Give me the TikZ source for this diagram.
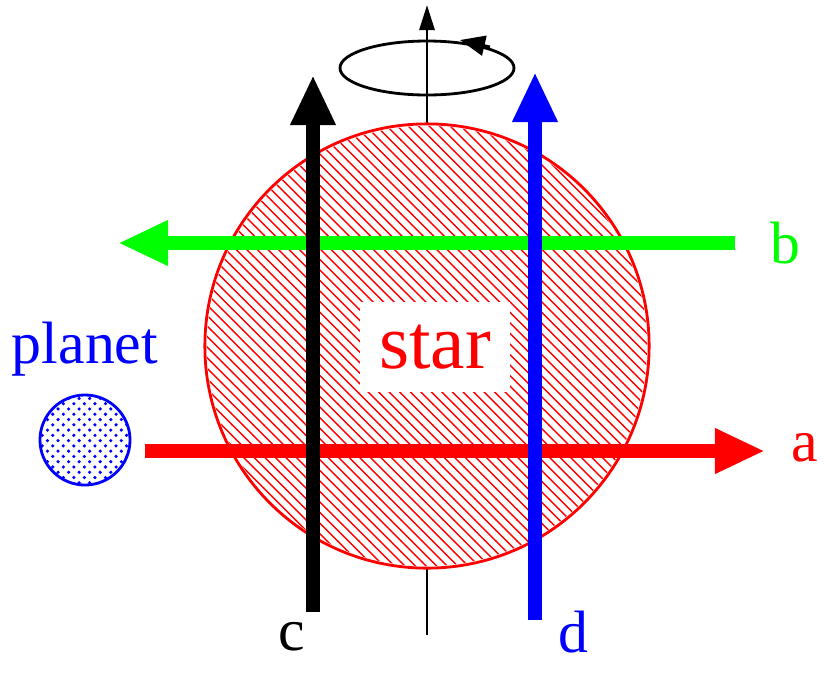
\documentclass[tikz,border=0pt]{standalone}
\usepackage{fontspec}
\setmainfont{Liberation Serif}
\usetikzlibrary{patterns, arrows.meta, positioning}

\begin{document}
\begin{tikzpicture}[x=0.01cm, y=-0.01cm,
	beam/.style={line width=0.14cm, -{Triangle[length=0.5cm, width=0.42cm]}},
	lbl/.style={font=\fontsize{17}{17}\selectfont}]
	\useasboundingbox (0,0) rectangle (830,678);
	
	%% Eixo de rotação
	\coordinate (axbot) at (427,635);
	\coordinate (axtop) at (427,5);
	\draw [-{Triangle[length=0.25cm, width=0.15cm]}, thick] (axbot)--(axtop);
	\draw [thick] (427,68) ellipse (87 and 27);
	\draw [-{Triangle[length=0.25cm, width=0.2cm]}, thick] (490,47)--(460,40);
	
	%% Estrela
	\node [circle, minimum size=4.44cm, draw=red, thick, fill=white] (star) at (427,346) {};
	\fill [pattern=north west lines, pattern color=red] (star.center) circle (2.2cm);
	\node [fill=white, text=red, font=\fontsize{22}{22}\selectfont,
		minimum width=1.5cm, minimum height=0.9cm] (starlbl) at (435,347) {star};
	
	%% Planeta
	\node [circle, minimum size=0.9cm, draw=blue, thick, fill=white] (planet) at (85,440) {};
	\fill [pattern=crosshatch dots, pattern color=blue] (planet.center) circle (0.44cm);
	\node [text=blue, lbl, above=0.05cm of planet] (planetlbl) {planet};
	
	%% Trajetórias
	\coordinate (b0) at (735,243);  \coordinate (b1) at (118,243);
	\coordinate (a0) at (145,451);  \coordinate (a1) at (765,451);
	\coordinate (c0) at (313,612);  \coordinate (c1) at (313,75);
	\coordinate (d0) at (535,620);  \coordinate (d1) at (535,72);
	
	\draw [beam, green] (b0)--(b1);
	\draw [beam, red] (a0)--(a1);
	\draw [beam, black] (c0)--(c1);
	\draw [beam, blue] (d0)--(d1);
	
	\node [lbl, text=green] (blbl) at (785,243) {b};
	\node [lbl, text=red] (albl) at (805,448) {a};
	\node [lbl, text=black] (clbl) at (292,637) {c};
	\node [lbl, text=blue] (dlbl) at (573,632) {d};
\end{tikzpicture}
\end{document}
